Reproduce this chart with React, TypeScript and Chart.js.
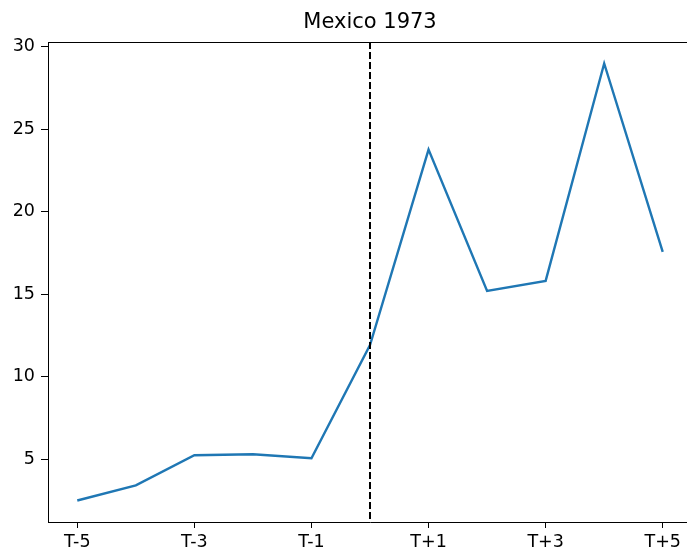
import React, { useEffect, useRef } from "react";
import { Chart, registerables } from "chart.js";

Chart.register(...registerables);

const titleText = "Mexico 1973";
const periods = [-5, -4, -3, -2, -1, 0, 1, 2, 3, 4, 5];
const values = [2.5, 3.42, 5.24, 5.3, 5.06, 11.92, 23.75, 15.19, 15.8, 28.97, 17.56];
const xTickValues = [-5, -3, -1, 1, 3, 5];
const xTickLabels = ["T-5", "T-3", "T-1", "T+1", "T+3", "T+5"];
const yTickValues = [5, 10, 15, 20, 25, 30];
const eventPeriod = 0;

const FONT = "'DejaVu Sans', sans-serif";

export default function App() {
  const ref = useRef<HTMLCanvasElement | null>(null);
  useEffect(() => {
    if (!ref.current) return;
    const overlay = {
      id: "overlay",
      afterDatasetsDraw(chart: any) {
        const { ctx, chartArea, scales } = chart;
        const x = scales.x.getPixelForValue(eventPeriod);
        ctx.save();
        ctx.strokeStyle = "#000";
        ctx.lineWidth = 2;
        ctx.setLineDash([7, 3]);
        ctx.beginPath();
        ctx.moveTo(x, chartArea.top);
        ctx.lineTo(x, chartArea.bottom);
        ctx.stroke();
        ctx.setLineDash([]);
        ctx.lineWidth = 1;
        ctx.beginPath();
        ctx.moveTo(chartArea.left, chartArea.top + 0.5);
        ctx.lineTo(chartArea.right, chartArea.top + 0.5);
        ctx.stroke();
        ctx.fillStyle = "#000";
        ctx.font = `21px ${FONT}`;
        ctx.textAlign = "center";
        ctx.textBaseline = "middle";
        ctx.fillText(titleText, (chartArea.left + chartArea.right) / 2, 23);
        ctx.restore();
      },
    };
    const chart = new Chart(ref.current, {
      type: "line",
      data: {
        datasets: [
          {
            data: periods.map((p, i) => ({ x: p, y: values[i] })),
            borderColor: "#1f77b4",
            borderWidth: 2.4,
            pointRadius: 0,
            tension: 0,
            fill: false,
          },
        ],
      },
      options: {
        animation: false,
        responsive: false,
        events: [],
        layout: { padding: { top: 42, left: 0, right: 8, bottom: 0 } },
        plugins: { legend: { display: false }, title: { display: false }, tooltip: { enabled: false } },
        scales: {
          x: {
            type: "linear",
            min: -5.5,
            max: 5.5,
            afterBuildTicks: (s: any) => {
              s.ticks = xTickValues.map((v) => ({ value: v }));
            },
            afterFit: (s: any) => {
              s.height = 30;
            },
            ticks: {
              autoSkip: false,
              maxRotation: 0,
              color: "#000",
              padding: 4,
              font: { family: FONT, size: 17.5 },
              callback: (v: any) => {
                const i = xTickValues.indexOf(Number(v));
                return i >= 0 ? xTickLabels[i] : "";
              },
            },
            grid: { drawOnChartArea: false, tickLength: 6, tickColor: "#000", tickWidth: 1 },
            border: { color: "#000", width: 1 },
          },
          y: {
            type: "linear",
            min: 1.2,
            max: 30.27,
            afterBuildTicks: (s: any) => {
              s.ticks = yTickValues.map((v) => ({ value: v }));
            },
            afterFit: (s: any) => {
              s.width = 48;
            },
            ticks: {
              color: "#000",
              padding: 6,
              font: { family: FONT, size: 17.5 },
            },
            grid: { drawOnChartArea: false, tickLength: 7, tickColor: "#000", tickWidth: 1 },
            border: { color: "#000", width: 1 },
          },
        },
      },
      plugins: [overlay],
    });
    return () => chart.destroy();
  }, []);
  return (
    <div style={{ position: "absolute", left: 0, top: 0, width: 687, height: 552, overflow: "hidden", background: "#fff" }}>
      <canvas ref={ref} width={700} height={552} style={{ width: 700, height: 552, display: "block" }} />
    </div>
  );
}
